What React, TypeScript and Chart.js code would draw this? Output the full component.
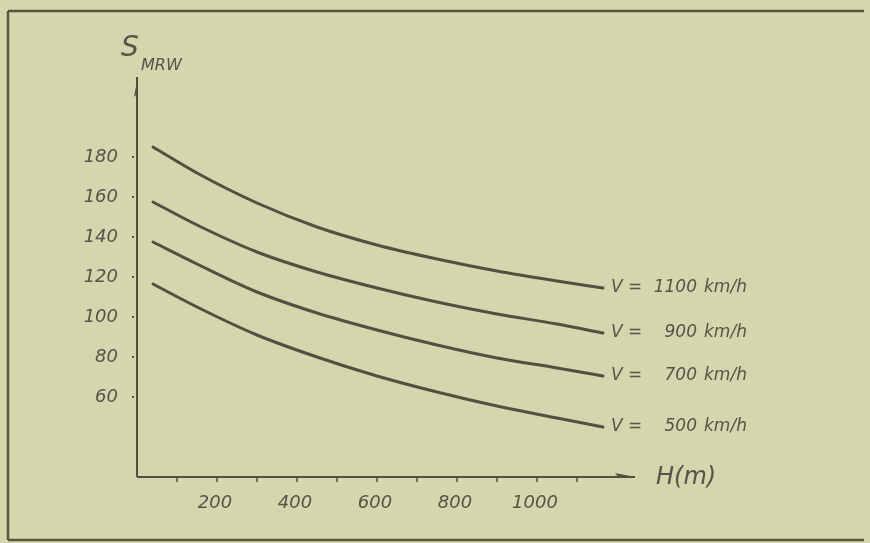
import React, { useEffect, useRef } from "react";
import { Chart, registerables } from "chart.js";

Chart.register(...registerables);

// Data
const heights = [40, 150, 300, 450, 600, 750, 900, 1050, 1165];
const s1100 = [185, 172, 157, 145, 136, 129, 123, 118, 114.5];
const s900 = [157.5, 146, 132.5, 122.5, 114.5, 107.5, 101.5, 96.5, 92];
const s700 = [137.5, 126.5, 112.5, 102, 93.5, 86, 79.5, 74.5, 70.5];
const s500 = [116.5, 105, 91, 80, 70.5, 62.5, 55.5, 49.5, 45];
const speedLabels = ["1100", "900", "700", "500"];
const yTickValues = [60, 80, 100, 120, 140, 160, 180];
const xTickMarks = [100, 200, 300, 400, 500, 600, 700, 800, 900, 1000, 1100];
const xTickLabels = [200, 400, 600, 800, 1000];

const INK = "#4f5240";
const TEXT = "#525547";
const PAPER = "#d5d6ae";
const FONT = "'DejaVu Sans', sans-serif";

const annotate = {
  id: "annotate",
  afterDraw(chart: any) {
    const ctx = chart.ctx as CanvasRenderingContext2D;
    const xs = chart.scales.x;
    const ys = chart.scales.y;
    const ca = chart.chartArea;
    ctx.save();

    // paper frame (left, top, bottom only), separate strokes
    ctx.strokeStyle = "#55573f";
    ctx.lineWidth = 2.5;
    ctx.lineCap = "butt";
    ctx.beginPath();
    ctx.moveTo(8, 11);
    ctx.lineTo(864, 11);
    ctx.stroke();
    ctx.beginPath();
    ctx.moveTo(8, 11);
    ctx.lineTo(8, 540);
    ctx.stroke();
    ctx.beginPath();
    ctx.moveTo(8, 540);
    ctx.lineTo(864, 540);
    ctx.stroke();

    // axes
    const x0 = ca.left;
    const y0 = ca.bottom;
    ctx.strokeStyle = INK;
    ctx.lineWidth = 2;
    ctx.beginPath();
    ctx.moveTo(x0, y0);
    ctx.lineTo(x0, ca.top);
    ctx.moveTo(x0, y0);
    ctx.lineTo(ca.right, y0);
    ctx.stroke();
    // arrow heads
    ctx.fillStyle = INK;
    ctx.beginPath();
    ctx.moveTo(x0, ca.top + 4);
    ctx.lineTo(x0 - 3, ca.top + 20);
    ctx.lineTo(x0 + 1, ca.top + 16);
    ctx.closePath();
    ctx.fill();
    ctx.beginPath();
    ctx.moveTo(ca.right, y0);
    ctx.lineTo(ca.right - 20, y0 - 4);
    ctx.lineTo(ca.right - 16, y0 + 1);
    ctx.closePath();
    ctx.fill();

    // y ticks (dots) and labels
    ctx.font = `italic 18px ${FONT}`;
    ctx.fillStyle = TEXT;
    ctx.textAlign = "right";
    ctx.textBaseline = "middle";
    yTickValues.forEach((v) => {
      const py = ys.getPixelForValue(v);
      ctx.fillRect(x0 - 5, py - 1, 2, 2);
      ctx.fillText(String(v), 118, py);
    });

    // x tick marks and labels
    ctx.strokeStyle = INK;
    ctx.lineWidth = 1.5;
    xTickMarks.forEach((v) => {
      const px = xs.getPixelForValue(v);
      ctx.beginPath();
      ctx.moveTo(px, y0 + 1);
      ctx.lineTo(px, y0 + 5);
      ctx.stroke();
    });
    ctx.textAlign = "center";
    xTickLabels.forEach((v) => {
      const px = xs.getPixelForValue(v);
      ctx.fillText(String(v), px - 2, 503);
    });

    // axis titles
    ctx.textAlign = "left";
    ctx.textBaseline = "alphabetic";
    ctx.font = `italic 28px ${FONT}`;
    ctx.fillText("S", 121, 56);
    ctx.font = `italic 16px ${FONT}`;
    ctx.fillText("MRW", 141, 70);
    ctx.font = `italic 24px ${FONT}`;
    ctx.textBaseline = "middle";
    ctx.fillText("H(m)", 656, 478);

    // series end labels
    ctx.font = `italic 17px ${FONT}`;
    chart.data.datasets.forEach((ds: any, i: number) => {
      const meta = chart.getDatasetMeta(i);
      const last = meta.data[meta.data.length - 1];
      const py = last.y;
      ctx.textAlign = "left";
      ctx.fillText("V =", 611, py);
      ctx.textAlign = "right";
      ctx.fillText(speedLabels[i], 697, py);
      ctx.textAlign = "left";
      ctx.fillText("km/h", 704, py);
    });

    ctx.restore();
  },
};

export default function App() {
  const ref = useRef<HTMLCanvasElement | null>(null);

  useEffect(() => {
    if (!ref.current) return;
    const series = [s1100, s900, s700, s500];
    const chart = new Chart(ref.current, {
      type: "line",
      data: {
        datasets: series.map((s, i) => ({
          label: `V = ${speedLabels[i]} km/h`,
          data: heights.map((h, j) => ({ x: h, y: s[j] })),
          borderColor: INK,
          borderWidth: 3,
          pointRadius: 0,
          cubicInterpolationMode: "monotone" as const,
          fill: false,
          borderCapStyle: "round" as const,
        })),
      },
      options: {
        responsive: false,
        animation: false,
        layout: { padding: { left: 137, right: 235, top: 77, bottom: 66 } },
        plugins: {
          legend: { display: false },
          tooltip: { enabled: false },
        },
        scales: {
          x: { type: "linear", min: 0, max: 1245, display: false },
          y: { type: "linear", min: 20, max: 220, display: false },
        },
      },
      plugins: [annotate],
    });
    return () => chart.destroy();
  }, []);

  return (
    <div
      style={{
        position: "fixed",
        left: 0,
        top: 0,
        width: 870,
        height: 543,
        background: PAPER,
      }}
    >
      <canvas ref={ref} width={870} height={543} style={{ display: "block" }} />
    </div>
  );
}
